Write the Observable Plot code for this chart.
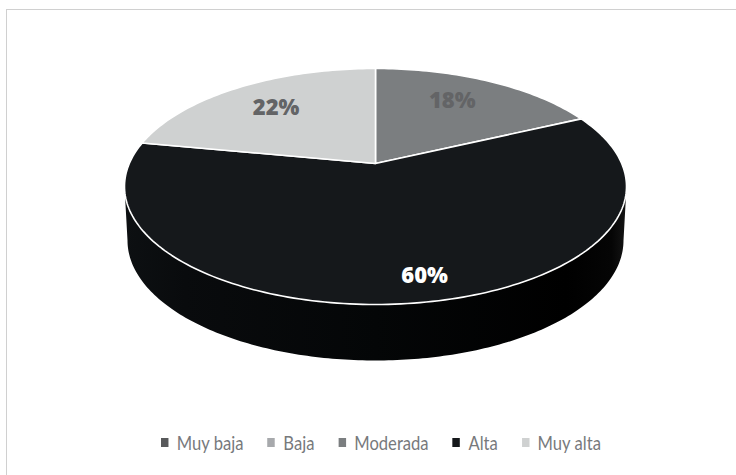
<!DOCTYPE html>
<html>
<head>
<meta charset="utf-8">
<script src="https://cdn.jsdelivr.net/npm/d3@7"></script>
<script src="https://cdn.jsdelivr.net/npm/@observablehq/plot@0.6"></script>
<style>
html,body{margin:0;padding:0;background:#fff;}
#page{position:relative;width:736px;height:475px;overflow:hidden;}
#frame{position:absolute;left:6px;top:9px;width:740px;height:480px;border:1.5px solid #d0d0d0;box-sizing:border-box;pointer-events:none;}
#chart svg{display:block;}
#legend{position:absolute;left:161px;top:430px;white-space:nowrap;transform:scaleX(.83);transform-origin:left center;}
.lg-swatches{display:flex;font-family:Lato,sans-serif;font-size:20px;color:#77797c;min-height:24px;margin:0;}
.lg-swatch{display:inline-flex;align-items:center;margin-right:29px;}
.lg-swatch svg{margin-right:10px;}
</style>
</head>
<body>
<div id="page">
<div id="frame"></div>
<div id="chart"></div>
<div id="legend"></div>
</div>
<script>
const categories = ["Muy baja", "Baja", "Moderada", "Alta", "Muy alta"];
const shares = [0, 0, 18, 60, 22];
const palette = ["#58595b", "#a7a9ac", "#7b7e80", "#15181b", "#cfd1d1"];
const labelColors = ["#58595b", "#58595b", "#636466", "#ffffff", "#636466"];

const tilt = 0.195;
const rim = Math.sqrt(1 - tilt * tilt);
function project(angle, r = 1) {
  const s = Math.sin(angle) * r, c = Math.cos(angle) * r, d = 1 + tilt * c;
  return {x: rim * s / d, y: -tilt - (1 - tilt * tilt) * c / d};
}

const total = d3.sum(shares);
let acc = 0;
const slices = categories.map((name, i) => {
  const start = acc / total * 2 * Math.PI;
  acc += shares[i];
  return {name, share: shares[i], start, end: acc / total * 2 * Math.PI, i};
}).filter(d => d.share > 0);

function slicePoints(d) {
  const pts = [{...project(0, 0), name: d.name}];
  const n = Math.max(8, Math.ceil(d.share * 3));
  for (let j = 0; j <= n; ++j) {
    pts.push({...project(d.start + (d.end - d.start) * j / n), name: d.name});
  }
  pts.push(pts[0]);
  return pts;
}

const depthDown = 54 / 118, baseRx = 248 / 251, baseRy = 120 / 118;
const sidePts = [];
for (let j = 0; j <= 180; ++j) {
  const t = Math.PI - j * Math.PI / 180;
  sidePts.push({x: baseRx * Math.cos(t), y: depthDown + baseRy * Math.sin(t)});
}
sidePts.push({x: 1, y: 0}, {x: -1, y: 0}, sidePts[0]);

function label(name, r, dx, dy) {
  const d = slices.find(s => s.name === name);
  const p = project((d.start + d.end) / 2, r);
  return Plot.text([{...p, t: d.share + "%"}], {
    x: "x", y: "y", text: "t", dx, dy,
    fill: labelColors[d.i], fontSize: 22, fontWeight: 800,
    fontFamily: "Open Sans", textAnchor: "middle", lineAnchor: "middle"
  });
}

const gradient = () => {
  const svg = d3.create("svg:defs");
  const g = svg.append("linearGradient").attr("id", "sideShade");
  [[0, "#0d1012"], [0.12, "#090b0d"], [0.5, "#040607"], [0.88, "#000000"], [0.97, "#050505"], [1, "#151515"]]
    .forEach(([o, c]) => g.append("stop").attr("offset", o).attr("stop-color", c));
  return svg.node();
};

const chart = Plot.plot({
  width: 736,
  height: 431,
  margin: 0,
  x: {domain: [-1, 1], range: [124, 626], axis: null},
  y: {domain: [-1, 1], range: [68, 304], axis: null},
  color: {domain: categories, range: palette},
  marks: [
    gradient,
    Plot.line(sidePts, {x: "x", y: "y", fill: "url(#sideShade)", stroke: "none", curve: "linear"}),
    ...slices.map(d => Plot.line(slicePoints(d), {
      x: "x", y: "y", fill: "name", stroke: "#ffffff", strokeWidth: 1.6,
      z: null, curve: "linear", strokeLinejoin: "round"
    })),
    label("Moderada", 0.7, -6, -2),
    label("Alta", 0.82, 19, 3),
    label("Muy alta", 0.7, 0, 0)
  ]
});
document.getElementById("chart").append(chart);

const legend = Plot.legend({
  color: {type: "ordinal", domain: categories, range: palette},
  swatchSize: 9,
  className: "lg"
});
document.getElementById("legend").append(legend);
</script>
</body>
</html>
